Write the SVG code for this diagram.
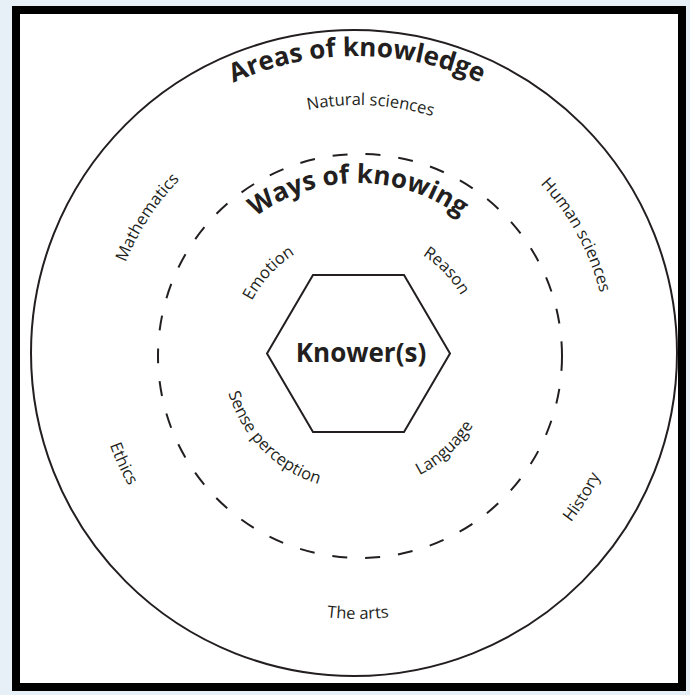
<svg xmlns="http://www.w3.org/2000/svg" xmlns:xlink="http://www.w3.org/1999/xlink" width="690" height="695" viewBox="0 0 690 695">
  <style>
    .lbl { font-family: "Open Sans", "Liberation Sans", sans-serif; font-size: 16.5px; fill: #231f20; }
    .ttl { font-family: "Open Sans", "Liberation Sans", sans-serif; font-size: 26px; font-weight: bold; fill: #231f20; }
    .line { fill: none; stroke: #231f20; stroke-width: 2; }
  </style>
  <defs>
    <path id="t299" d="M357,654 A299,299 0 0 1 357,56 A299,299 0 0 1 357,654"/>
    <path id="t250" d="M358,605 A250,250 0 0 1 358,105 A250,250 0 0 1 358,605"/>
    <path id="t172" d="M358,527 A172,172 0 0 1 358,183 A172,172 0 0 1 358,527"/>
    <path id="t119" d="M358,474 A119,119 0 0 1 358,236 A119,119 0 0 1 358,474"/>
    <path id="b264" d="M358,91 A264,264 0 0 0 358,619 A264,264 0 0 0 358,91"/>
    <path id="b135" d="M358,220 A135,135 0 0 0 358,490 A135,135 0 0 0 358,220"/>
  </defs>
  <rect x="0" y="0" width="690" height="695" fill="#e7f0f7"/>
  <rect x="16" y="10" width="666" height="677" fill="#ffffff"/>

  <g id="areas-of-knowledge">
    <circle class="line" cx="354" cy="353" r="323"/>
    <text class="ttl"><textPath xlink:href="#t299" startOffset="50%" text-anchor="middle">Areas of knowledge</textPath></text>
    <text class="lbl"><textPath xlink:href="#t250" startOffset="50.8%" text-anchor="middle">Natural sciences</textPath></text>
    <text class="lbl"><textPath xlink:href="#t250" startOffset="34.2%" text-anchor="middle">Mathematics</textPath></text>
    <text class="lbl"><textPath xlink:href="#t250" startOffset="67%" text-anchor="middle">Human sciences</textPath></text>
    <text class="lbl"><textPath xlink:href="#b264" startOffset="31.9%" text-anchor="middle">Ethics</textPath></text>
    <text class="lbl" transform="translate(5,5)"><textPath xlink:href="#b264" startOffset="66.1%" text-anchor="middle">History</textPath></text>
    <text class="lbl"><textPath xlink:href="#b264" startOffset="50%" text-anchor="middle">The arts</textPath></text>
  </g>

  <g id="ways-of-knowing">
    <circle class="line" cx="360" cy="356" r="202" stroke-dasharray="15 18"/>
    <text class="ttl"><textPath xlink:href="#t172" startOffset="50%" text-anchor="middle">Ways of knowing</textPath></text>
    <text class="lbl"><textPath xlink:href="#t119" startOffset="36.8%" text-anchor="middle">Emotion</textPath></text>
    <text class="lbl"><textPath xlink:href="#t119" startOffset="62.9%" text-anchor="middle">Reason</textPath></text>
    <text class="lbl"><textPath xlink:href="#b135" startOffset="37.4%" text-anchor="middle">Sense perception</textPath></text>
    <text class="lbl"><textPath xlink:href="#b135" startOffset="61.9%" text-anchor="middle">Language</textPath></text>
  </g>

  <g id="knowers">
    <polygon class="line" points="313,275 404,275 450,353.5 404,432 313,432 267,353.5"/>
    <text class="ttl" x="361" y="362" text-anchor="middle" font-size="25">Knower(s)</text>
  </g>

  <rect x="16" y="10" width="666" height="677" fill="none" stroke="#000000" stroke-width="8"/>
</svg>
